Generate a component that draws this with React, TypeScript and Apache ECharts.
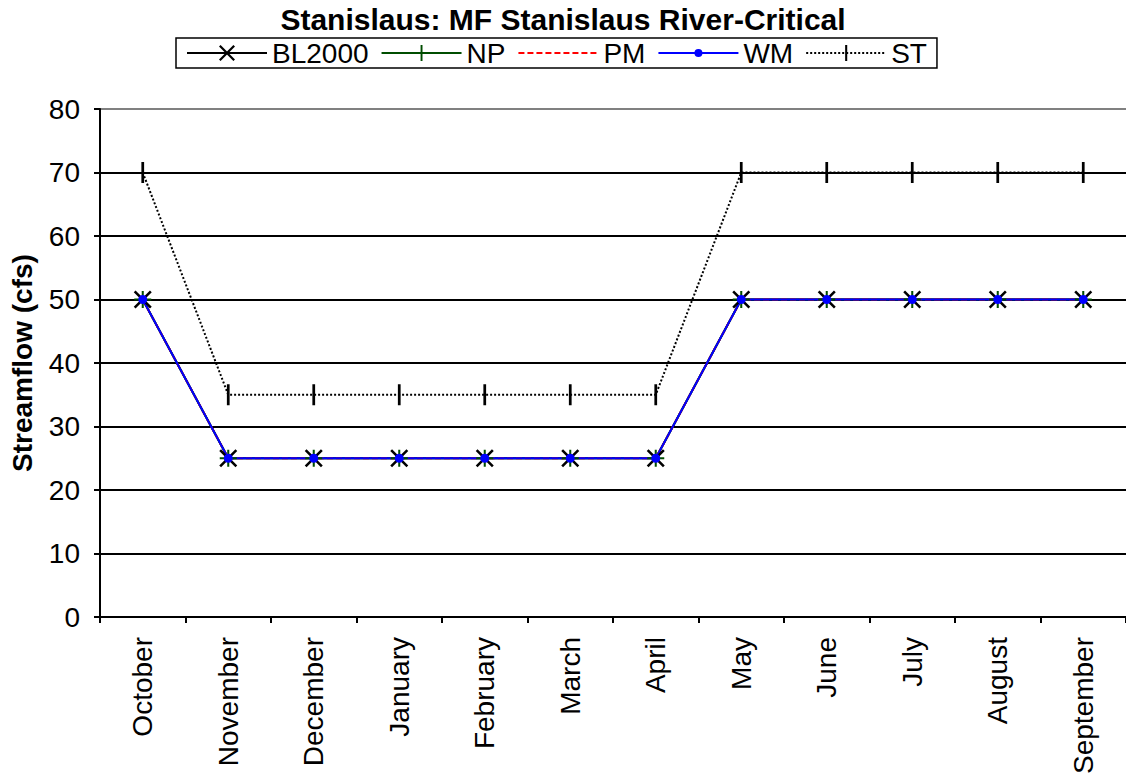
import React, { useEffect, useRef } from "react";
import * as echarts from "echarts";

const months = ["October", "November", "December", "January", "February", "March", "April", "May", "June", "July", "August", "September"];
const bl2000 = [50, 25, 25, 25, 25, 25, 25, 50, 50, 50, 50, 50];
const np = [50, 25, 25, 25, 25, 25, 25, 50, 50, 50, 50, 50];
const pm = [50, 25, 25, 25, 25, 25, 25, 50, 50, 50, 50, 50];
const wm = [50, 25, 25, 25, 25, 25, 25, 50, 50, 50, 50, 50];
const st = [70, 35, 35, 35, 35, 35, 35, 70, 70, 70, 70, 70];

const FONT = "Arial, 'Liberation Sans', sans-serif";
// tiny corner specks keep the symbols' bounding boxes square
const SPECKS = " M0,0h0.001v0.001h-0.001Z M20,20h-0.001v-0.001h0.001Z";
const CROSS = "path://M0,1L1,0L10,9L9,10Z M9,0L10,1L1,10L0,9Z";
const PLUS = "path://M4.4,0H5.6V10H4.4Z M0,4.4H10V5.6H0Z";
const DOT = "path://M5,10A5,5 0 1,0 15,10A5,5 0 1,0 5,10Z" + SPECKS;
const BAR = "path://M8.7,0H11.3V20H8.7Z" + SPECKS;

export default function App() {
  const ref = useRef<HTMLDivElement>(null);
  useEffect(() => {
    if (!ref.current) return;
    const chart = echarts.init(ref.current, null, { renderer: "svg" });
    const gridColors = ["#000", "#000", "#000", "#000", "#000", "#000", "#000", "#000", "#808080"];
    chart.setOption({
      animation: false,
      backgroundColor: "#fff",
      title: {
        text: "Stanislaus: MF Stanislaus River-Critical",
        left: "center",
        top: 4,
        padding: 0,
        textStyle: { fontFamily: FONT, fontWeight: "bold", fontSize: 30, color: "#000" },
      },
      legend: {
        left: 176,
        top: 38,
        padding: [1, 10],
        itemGap: 12,
        itemWidth: 80,
        itemHeight: 20,
        borderColor: "#000",
        borderWidth: 1.5,
        textStyle: { fontFamily: FONT, fontSize: 28, lineHeight: 26, color: "#000" },
        data: [
          { name: "BL2000" },
          { name: "NP" },
          { name: "PM", itemStyle: { opacity: 0 } },
          { name: "WM" },
          { name: "ST" },
        ],
      },
      grid: { left: 98, right: 0, top: 109, bottom: 159 },
      xAxis: {
        type: "category",
        data: months,
        boundaryGap: true,
        axisLine: { show: true, lineStyle: { color: "#000", width: 2 } },
        axisTick: { show: true, interval: 0, length: 6, lineStyle: { color: "#000", width: 2 } },
        axisLabel: { interval: 0, rotate: 90, margin: 20, fontFamily: FONT, fontSize: 28, color: "#000" },
        splitLine: { show: false },
      },
      yAxis: {
        type: "value",
        min: 0,
        max: 80,
        interval: 10,
        name: "Streamflow (cfs)",
        nameLocation: "middle",
        nameGap: 64,
        nameTextStyle: { fontFamily: FONT, fontWeight: "bold", fontSize: 28, color: "#000" },
        axisLine: { show: true, lineStyle: { color: "#000", width: 2 } },
        axisTick: { show: true, length: 6, lineStyle: { color: "#000", width: 2 } },
        axisLabel: { margin: 20, fontFamily: FONT, fontSize: 28, color: "#000" },
        splitLine: { show: true, lineStyle: { color: gridColors, width: 2 } },
      },
      series: [
        {
          name: "BL2000",
          type: "line",
          data: bl2000,
          symbol: CROSS,
          symbolSize: 18,
          itemStyle: { color: "#000" },
          lineStyle: { color: "#000", width: 2 },
        },
        {
          name: "NP",
          type: "line",
          data: np,
          symbol: PLUS,
          symbolSize: 17,
          itemStyle: { color: "#004d00" },
          lineStyle: { color: "#004d00", width: 2 },
        },
        {
          name: "PM",
          type: "line",
          data: pm,
          symbol: "none",
          itemStyle: { color: "#ff0000" },
          lineStyle: { color: "#ff0000", width: 2, type: [6, 3] },
        },
        {
          name: "WM",
          type: "line",
          data: wm,
          symbol: DOT,
          symbolSize: 18,
          itemStyle: { color: "#0000ff" },
          lineStyle: { color: "#0000ff", width: 2 },
        },
        {
          name: "ST",
          type: "line",
          data: st,
          symbol: BAR,
          symbolSize: 21,
          itemStyle: { color: "#000" },
          lineStyle: { color: "#000", width: 2, type: [2, 2] },
        },
      ],
    });
    return () => chart.dispose();
  }, []);
  return <div ref={ref} style={{ position: "fixed", left: 0, top: 0, width: 1126, height: 777 }} />;
}
